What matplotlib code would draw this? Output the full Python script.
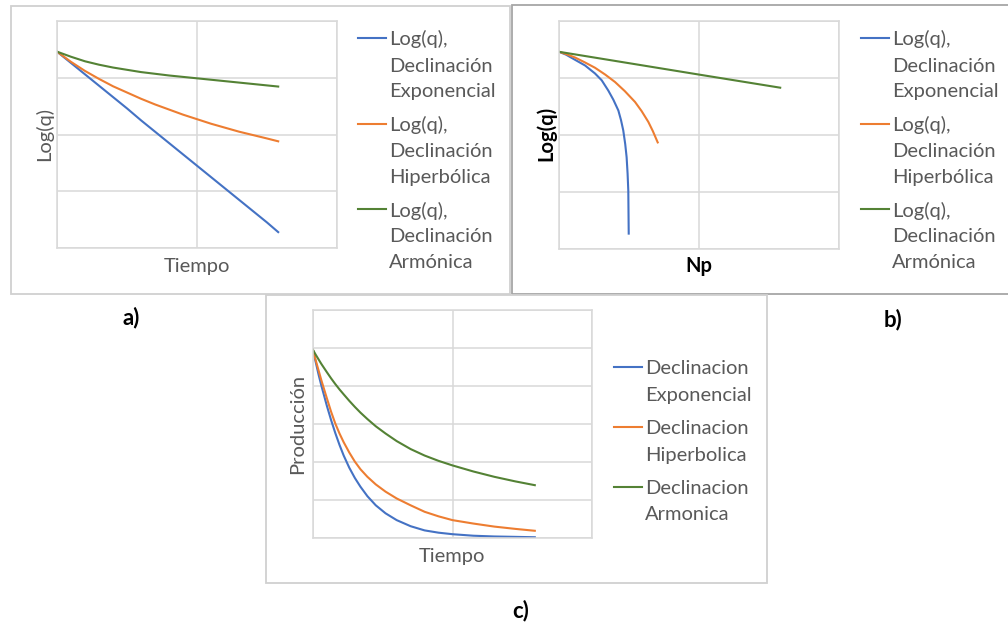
import matplotlib
matplotlib.use('Agg')
import matplotlib.pyplot as plt
from matplotlib.lines import Line2D
from matplotlib.patches import Rectangle

plt.rcParams['font.family'] = ['Lato', 'DejaVu Sans']

# panel a) Log(q) vs Tiempo
a_time = [0, 0.1, 0.2, 0.3, 0.4, 0.5, 0.6, 0.7, 0.8, 0.9, 1.0, 1.1, 1.2, 1.3, 1.4, 1.5, 1.58]
a_exp = [3.46, 3.26, 3.06, 2.86, 2.66, 2.46, 2.25, 2.05, 1.85, 1.65, 1.45,
         1.25, 1.05, 0.85, 0.65, 0.45, 0.28]
a_hyp = [3.46, 3.28, 3.12, 2.98, 2.85, 2.74, 2.63, 2.53, 2.44, 2.35, 2.27,
         2.19, 2.12, 2.05, 1.99, 1.93, 1.88]
a_harm = [3.46, 3.37, 3.29, 3.23, 3.18, 3.14, 3.10, 3.07, 3.04, 3.015, 2.99,
          2.965, 2.94, 2.915, 2.89, 2.865, 2.845]

# panel b) Log(q) vs Np
b_np_exp = [0, 0.05, 0.114, 0.186, 0.257, 0.305, 0.352, 0.388, 0.424, 0.443,
            0.459, 0.473, 0.483, 0.49, 0.495, 0.498]
b_exp = [3.46, 3.41, 3.32, 3.22, 3.08, 2.96, 2.78, 2.62, 2.43, 2.26,
         2.08, 1.84, 1.61, 1.32, 1.02, 0.27]
b_np_hyp = [0, 0.05, 0.114, 0.18, 0.257, 0.33, 0.40, 0.47, 0.543, 0.59, 0.638, 0.67, 0.705]
b_hyp = [3.46, 3.42, 3.36, 3.28, 3.18, 3.06, 2.93, 2.77, 2.58, 2.42, 2.23, 2.07, 1.87]
b_np_harm = [0, 1.0, 1.58]
b_harm = [3.46, 3.06, 2.83]

# panel c) Produccion vs Tiempo
c_time = [0, 0.02, 0.04, 0.06, 0.08, 0.10, 0.13, 0.16, 0.19, 0.22, 0.26, 0.30, 0.34,
          0.39, 0.45, 0.52, 0.60, 0.70, 0.80, 0.90, 1.0, 1.15, 1.30, 1.45, 1.59]
c_exp = [4.95, 4.62, 4.30, 4.01, 3.74, 3.47, 3.10, 2.76, 2.45, 2.17, 1.85, 1.58, 1.35,
         1.10, 0.86, 0.65, 0.47, 0.31, 0.20, 0.14, 0.10, 0.06, 0.04, 0.03, 0.02]
c_hyp = [4.95, 4.67, 4.41, 4.15, 3.91, 3.67, 3.32, 3.01, 2.75, 2.52, 2.25, 2.01, 1.81,
         1.61, 1.41, 1.22, 1.04, 0.86, 0.69, 0.57, 0.47, 0.38, 0.30, 0.24, 0.19]
c_harm = [4.95, 4.82, 4.70, 4.58, 4.47, 4.36, 4.20, 4.05, 3.91, 3.78, 3.61, 3.45, 3.30,
          3.13, 2.94, 2.75, 2.55, 2.34, 2.17, 2.03, 1.91, 1.75, 1.61, 1.49, 1.39]

labels_ab = [["Log(q),", "Declinación", "Exponencial"],
             ["Log(q),", "Declinación", "Hiperbólica"],
             ["Log(q),", "Declinación", "Armónica"]]
labels_c = [["Declinacion", "Exponencial"],
            ["Declinacion", "Hiperbolica"],
            ["Declinacion", "Armonica"]]

BLUE, ORANGE, GREEN = '#4472C4', '#ED7D31', '#548235'
GRID = '#d9d9d9'
TXT = '#595959'
FS = 14.5

W, H = 1008, 625
fig = plt.figure(figsize=(W / 100, H / 100), dpi=100)


def px_axes(left, top, right, bottom):
    return fig.add_axes([left / W, 1 - bottom / H, (right - left) / W, (bottom - top) / H])


def ftext(x, y, s, **kw):
    return fig.text(x / W, 1 - y / H, s, **kw)


def frame(x0, y0, x1, y1, color):
    fig.add_artist(Rectangle((x0 / W, 1 - y1 / H), (x1 - x0) / W, (y1 - y0) / H,
                             transform=fig.transFigure, fill=False, ec=color, lw=1.3))


def style_axes(ax, ymax):
    ax.set_xlim(0, 2)
    ax.set_ylim(0, ymax)
    ax.set_xticks([0, 1, 2])
    ax.set_yticks(range(ymax + 1))
    ax.grid(True, color=GRID, lw=1.1)
    ax.tick_params(length=0, labelbottom=False, labelleft=False)
    for sp in ax.spines.values():
        sp.set_color(GRID)
        sp.set_linewidth(1.1)
    ax.set_axisbelow(True)


def legend(x_line, x_text, y_first, entries, step, line_step):
    for i, (lines, col) in enumerate(zip(entries, [BLUE, ORANGE, GREEN])):
        y = y_first + i * step
        fig.add_artist(Line2D([x_line / W, (x_text - 3) / W], [1 - y / H, 1 - y / H],
                              color=col, lw=1.5, transform=fig.transFigure))
        for j, s in enumerate(lines):
            ftext(x_text, y + j * line_step + 7.5, s, color=TXT, fontsize=FS, va='baseline')


# frames
frame(10.5, 5.5, 510.5, 293.5, '#d0d0d0')
frame(512, 5.5, 1012, 294, '#a6a6a6')
frame(266, 295.5, 767, 583, '#d0d0d0')

# a)
ax = px_axes(57, 21, 337, 248)
style_axes(ax, 4)
ax.plot(a_time, a_exp, color=BLUE, lw=1.5)
ax.plot(a_time, a_hyp, color=ORANGE, lw=1.5)
ax.plot(a_time, a_harm, color=GREEN, lw=1.5)
ftext(197, 272, "Tiempo", color=TXT, fontsize=FS, ha='center', va='baseline')
ftext(44, 134, "Log(q)", color=TXT, fontsize=FS, ha='center', va='center', rotation=90)
legend(358, 389, 38, labels_ab, 85.5, 26)

# b)
ax = px_axes(559, 21, 839, 249)
style_axes(ax, 4)
ax.plot(b_np_exp, b_exp, color=BLUE, lw=1.5)
ax.plot(b_np_hyp, b_hyp, color=ORANGE, lw=1.5)
ax.plot(b_np_harm, b_harm, color=GREEN, lw=1.5)
ftext(699, 272, "Np", color='black', fontsize=FS, fontweight='bold', ha='center', va='baseline')
ftext(546, 133, "Log(q)", color='black', fontsize=FS, fontweight='bold',
      ha='center', va='center', rotation=90)
legend(861, 892, 38, labels_ab, 85.5, 26)

# c)
ax = px_axes(313, 310, 592, 538)
style_axes(ax, 6)
ax.plot(c_time, c_exp, color=BLUE, lw=1.5)
ax.plot(c_time, c_hyp, color=ORANGE, lw=1.5)
ax.plot(c_time, c_harm, color=GREEN, lw=1.5)
ftext(452, 562, "Tiempo", color=TXT, fontsize=FS, ha='center', va='baseline')
ftext(298, 424, "Producción", color=TXT, fontsize=FS, ha='center', va='center', rotation=90)
legend(614, 645, 367, labels_c, 60, 26)

# panel tags
ftext(131, 318, "a)", fontsize=16, fontweight='bold', ha='center', va='center')
ftext(893, 320, "b)", fontsize=16, fontweight='bold', ha='center', va='center')
ftext(521, 611, "c)", fontsize=16, fontweight='bold', ha='center', va='center')

fig.savefig('out.png', dpi=100)
